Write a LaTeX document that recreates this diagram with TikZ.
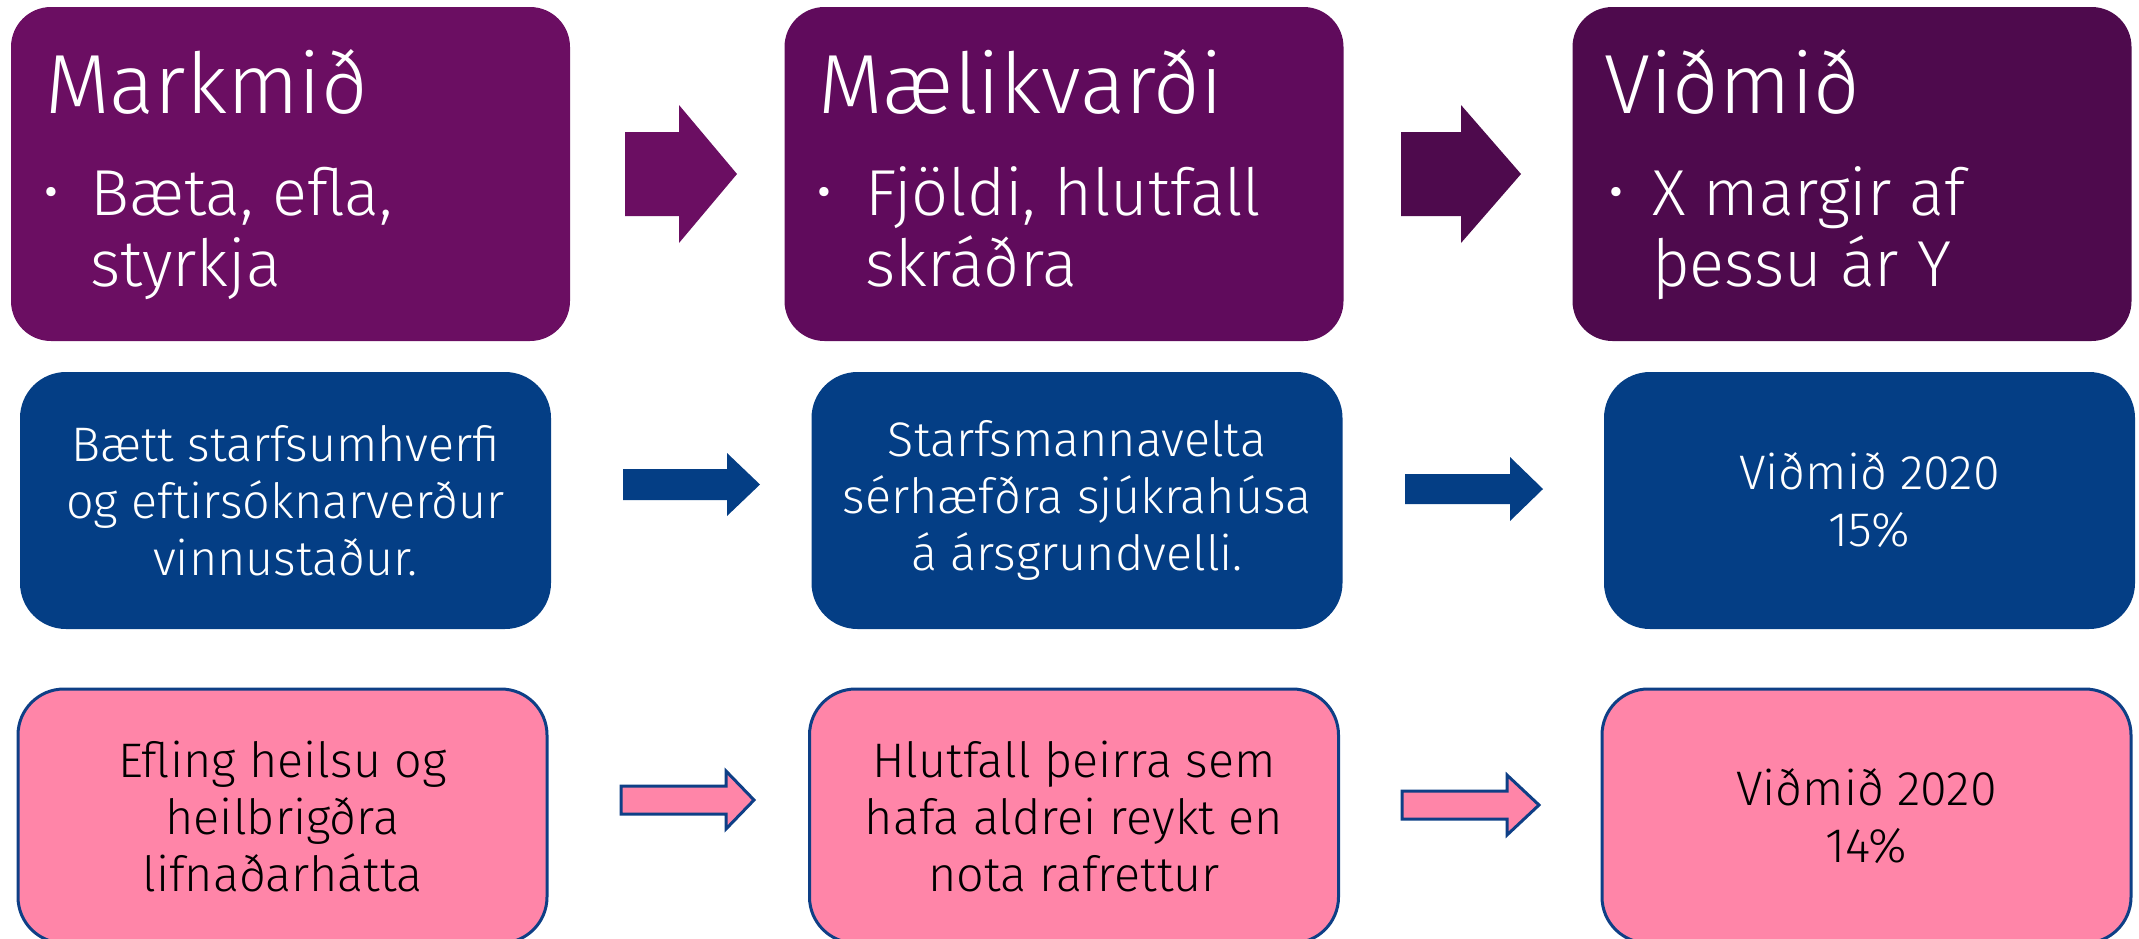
\documentclass[tikz,border=0pt]{standalone}
\usepackage{fontspec}
\setmainfont{Fira Sans Light}
\definecolor{pA}{HTML}{6B0E62}
\definecolor{pB}{HTML}{600B5C}
\definecolor{pC}{HTML}{4E0A4D}
\definecolor{navy}{HTML}{043E85}
\definecolor{pinkfill}{HTML}{FF85A8}
\definecolor{pinkline}{HTML}{0E3F86}
\tikzset{
  topbox/.style={rounded corners=40pt, inner sep=0pt, minimum width=559pt, minimum height=334pt},
  midbox/.style={rounded corners=46pt, inner sep=0pt, minimum width=531pt, minimum height=257pt, fill=navy,
     text=white, align=center, font=\fontsize{48.5}{57}\selectfont},
  botbox/.style={rounded corners=46pt, inner sep=0pt, minimum width=529pt, minimum height=254pt, fill=pinkfill,
     draw=pinkline, line width=3pt, text=black, align=center, font=\fontsize{48.5}{57}\selectfont},
  title/.style={anchor=base west, inner sep=0pt, text=white, font=\fontsize{84}{100}\selectfont},
  bultext/.style={anchor=base west, inner sep=0pt, text=white, align=left, font=\fontsize{65}{71}\selectfont},
  bul/.style={anchor=base west, inner sep=0pt, text=white, font=\fontsize{62}{62}\selectfont},
  pinkarrow/.style={fill=pinkfill, draw=pinkline, line width=3pt},
}
\begin{document}
\begin{tikzpicture}[x=1pt,y=-1pt]
\useasboundingbox (0,0) rectangle (2139,938);
\begin{scope}
\clip (0,0) rectangle (2139,938);
% top row
\node[topbox, fill=pA] (t1) at (290.5,174) {};
\node[topbox, fill=pB] (t2) at (1064,174) {};
\node[topbox, fill=pC] (t3) at (1852,174) {};
\node[title] (t1h) at (45,113) {Markmið};
\node[bul] (t1b) at (42,213) {•};
\node[bultext] (t1t) at (90,286) {Bæta, efla,\\styrkja};
\node[title] (t2h) at (818,113) {Mælikvarði};
\node[bul] (t2b) at (815,213) {•};
\node[bultext] (t2t) at (865,286) {Fjöldi, hlutfall\\skráðra};
\node[title] (t3h) at (1604,113) {Viðmið};
\node[bul] (t3b) at (1607,213) {•};
\node[bultext] (t3t) at (1652,286) {X margir af\\þessu ár Y};
\fill[pA] (625,132) -- (679,132) -- (679,105) -- (737,174) -- (679,243) -- (679,216) -- (625,216) -- cycle;
\fill[pC] (1401,132) -- (1461,132) -- (1461,105) -- (1521,174) -- (1461,243) -- (1461,216) -- (1401,216) -- cycle;
% middle row
\node[midbox] (m1) at (285.5,500.5) {Bætt starfsumhverfi\\og eftirsóknarverður\\vinnustaður.};
\node[midbox] (m2) at (1077,500.5) {Starfsmannavelta\\sérhæfðra sjúkrahúsa\\á ársgrundvelli.};
\node[midbox] (m3) at (1869.5,500.5) {Viðmið 2020\\15\%};
\fill[navy] (623,469) -- (727,469) -- (727,453) -- (760,484.5) -- (727,516) -- (727,500) -- (623,500) -- cycle;
\fill[navy] (1405,474) -- (1510,474) -- (1510,457) -- (1543,489) -- (1510,521) -- (1510,504) -- (1405,504) -- cycle;
% bottom row
\node[botbox] (b1) at (282.5,816) {Efling heilsu og\\heilbrigðra\\lifnaðarhátta};
\node[botbox] (b2) at (1074,816) {Hlutfall þeirra sem\\hafa aldrei reykt en\\nota rafrettur};
\node[botbox] (b3) at (1866.5,816) {Viðmið 2020\\14\%};
\draw[pinkarrow] (621,786) -- (726,786) -- (726,771) -- (754,800) -- (726,829) -- (726,814) -- (621,814) -- cycle;
\draw[pinkarrow] (1402,791) -- (1507,791) -- (1507,775) -- (1539,805) -- (1507,835) -- (1507,819) -- (1402,819) -- cycle;
\end{scope}
\end{tikzpicture}
\end{document}
